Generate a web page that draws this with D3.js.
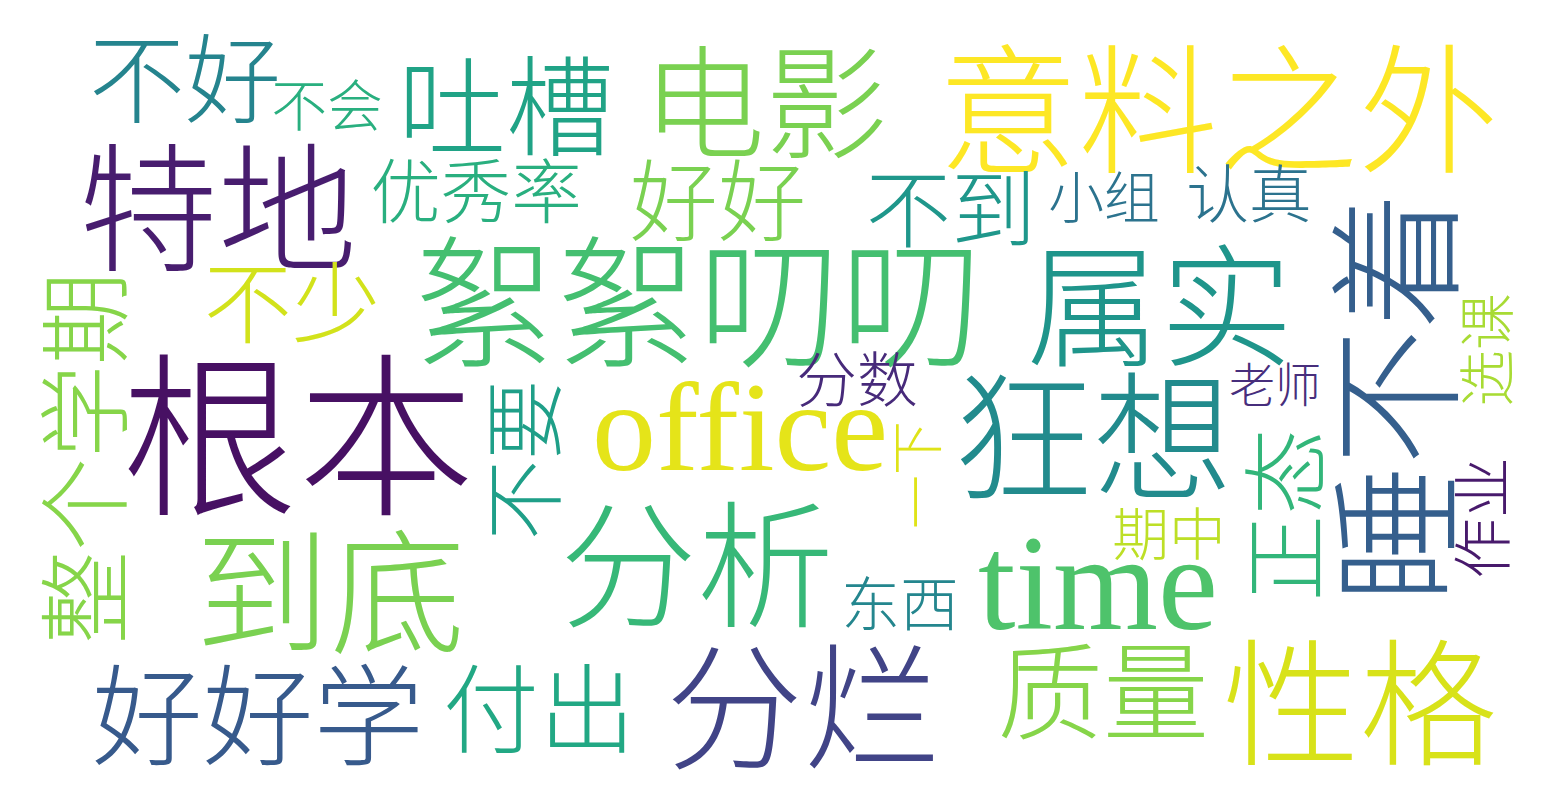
<!DOCTYPE html>
<html>
<head>
<meta charset="utf-8">
<script src="https://cdn.jsdelivr.net/npm/d3@7"></script>
<style>
  body { margin: 0; background: #fff; }
</style>
</head>
<body>
<svg id="cloud"></svg>
<script>
// words of the cloud, in drawing order
const words = ["不好", "不会", "吐槽", "电影", "意料之外", "特地", "优秀率", "好好", "不到", "小组",
  "认真", "睡不着", "絮絮叨叨", "属实", "不少", "整个学期", "根本", "分数", "office", "不要",
  "一下", "狂想", "老师", "选课", "正态", "作业", "期中", "分析", "到底", "东西",
  "time", "好好学", "付出", "分烂", "质量", "性格"];
// font size of each word
const sizes = [98, 57, 110, 125, 143, 142, 72, 90, 87, 57,
  64, 140, 145, 136, 90, 95, 180, 62, 128, 82,
  55, 143, 47, 58, 88, 62, 58, 140, 138, 60,
  135, 113, 98, 140, 108, 140];
// word centres (layout units, same size as the picture)
const xs = [185, 327, 506, 765, 1218, 218, 476, 718, 951, 1104,
  1249, 1388, 698, 1160, 292, 79, 298, 857, 740, 519,
  913, 1093, 1275, 1483, 1280, 1478, 1169, 697, 330, 900,
  1098, 258, 539, 803, 1103, 1360];
const ys = [76, 104, 103, 98, 103, 202, 190, 198, 207, 196,
  192, 397, 297, 300, 300, 458, 428, 378, 427, 460,
  475, 430, 385, 350, 515, 518, 533, 560, 587, 603,
  583, 712, 706, 702, 687, 698];
// rotation in degrees (vertical words read bottom to top)
const angles = [0, 0, 0, 0, 0, 0, 0, 0, 0, 0,
  0, -90, 0, 0, 0, -90, 0, 0, 0, -90,
  -90, 0, 0, -90, -90, -90, 0, 0, 0, 0,
  0, 0, 0, 0, 0, 0];
// position on the viridis colour map
const shades = [0.45, 0.63, 0.58, 0.80, 1.0, 0.08, 0.63, 0.80, 0.53, 0.38,
  0.38, 0.30, 0.70, 0.52, 0.93, 0.82, 0.04, 0.12, 0.96, 0.56,
  0.95, 0.48, 0.13, 0.87, 0.66, 0.07, 0.90, 0.67, 0.80, 0.46,
  0.72, 0.28, 0.60, 0.20, 0.82, 0.94];

const width = 1548, height = 804;

const svg = d3.select("#cloud")
  .attr("width", width)
  .attr("height", height);

svg.append("rect")
  .attr("width", width)
  .attr("height", height)
  .attr("fill", "#fff");

const x = d3.scaleLinear().domain([0, 1548]).range([0, width]);
const y = d3.scaleLinear().domain([0, 804]).range([0, height]);
const color = d3.scaleSequential(d3.interpolateViridis).domain([0, 1]);

const data = words.map((w, i) => ({
  text: w,
  size: sizes[i],
  x: xs[i],
  y: ys[i],
  rotate: angles[i],
  shade: shades[i],
  latin: /^[a-z]+$/i.test(w)
}));

// the sans CJK glyphs fill a little more of the em than the brush font
const cjkScale = 0.98;

svg.append("g")
  .selectAll("text")
  .data(data)
  .join("text")
  .attr("text-anchor", "middle")
  .attr("dominant-baseline", "central")
  .attr("transform", d => `translate(${x(d.x)},${y(d.y) - (d.latin || d.rotate ? 0 : 3)}) rotate(${d.rotate})`)
  .style("font-family", d => d.latin
    ? "'Liberation Serif', 'DejaVu Serif', serif"
    : "'Noto Sans CJK SC', 'Noto Sans', sans-serif")
  .style("font-weight", d => d.latin ? 400 : 300)
  .style("font-size", d => (d.latin ? d.size : d.size * cjkScale) + "px")
  .attr("fill", d => color(d.shade))
  .text(d => d.text);
</script>
</body>
</html>
